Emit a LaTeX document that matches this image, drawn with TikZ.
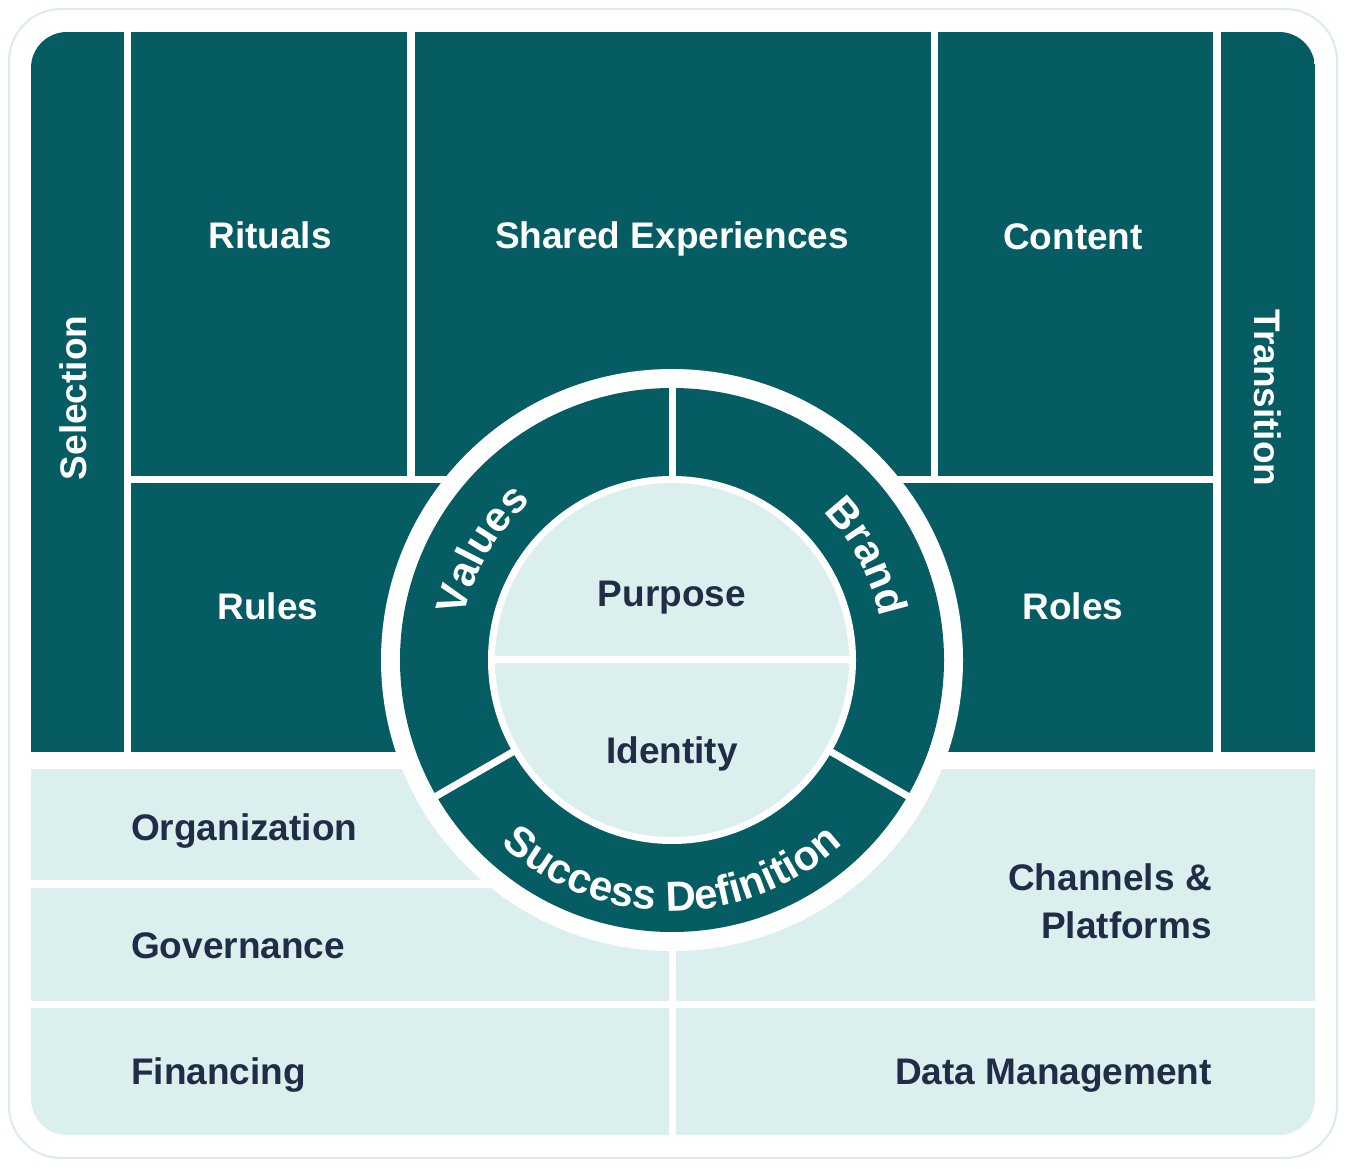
\documentclass[tikz,border=0pt]{standalone}
\usepackage{fontspec}
\setmainfont{Liberation Sans}
\usetikzlibrary{positioning,calc,decorations.text}
\definecolor{DeepTeal}{HTML}{055C63}
\definecolor{PaleTeal}{HTML}{DBEFEE}
\definecolor{InkNavy}{HTML}{1F2D46}
\definecolor{CardEdge}{HTML}{DDEAEA}
\tikzset{
  darkcell/.style={fill=DeepTeal},
  lightcell/.style={fill=PaleTeal},
  lbl/.style={font=\fontsize{37}{48}\selectfont\bfseries, text height=27pt, text depth=0pt, inner sep=0pt},
  whitelbl/.style={lbl, text=white},
  navylbl/.style={lbl, text=InkNavy},
  ringtext/.style={decorate, decoration={text along path, text align=center, text color=white,
    text={|\fontsize{42}{42}\selectfont\bfseries|#1}}},
  gapline/.style={draw=white, line width=7pt}
}

\begin{document}
\begin{tikzpicture}[x=1pt,y=1pt]
\useasboundingbox (0,0) rectangle (1346,1168);
\filldraw[draw=CardEdge, line width=2pt, fill=white, rounded corners=52pt] (9,10) rectangle (1337,1159);
\coordinate (hub) at (672,508);

\begin{scope}
\clip[rounded corners=36pt] (31,33) rectangle (1315,1136);
% top band
\fill[darkcell] (31,416) rectangle (124,1136);
\fill[darkcell] (131,692) rectangle (407,1136);
\fill[darkcell] (131,416) rectangle (672,685);
\fill[darkcell] (415,692) rectangle (931,1136);
\fill[darkcell] (938,692) rectangle (1213,1136);
\fill[darkcell] (672,416) rectangle (1213,685);
\fill[darkcell] (1221,416) rectangle (1315,1136);
% bottom band
\fill[lightcell] (31,288) rectangle (672,399);
\fill[lightcell] (31,167) rectangle (669,280);
\fill[lightcell] (31,33) rectangle (669,160);
\fill[lightcell] (676,167) rectangle (1315,399);
\fill[lightcell] (676,33) rectangle (1315,160);
\end{scope}

% central wheel
\fill[white] (hub) circle[radius=291];
\fill[DeepTeal] (hub) circle[radius=272];
\fill[white] (hub) circle[radius=184];
\fill[PaleTeal] (hub) circle[radius=177];
\draw[gapline] ($(hub)+(-180,0)$) -- ($(hub)+(180,0)$);
\foreach \a in {90,210,330}
  \draw[gapline] ($(hub)+(\a:180)$) -- ($(hub)+(\a:274)$);

\path[ringtext=Values] ($(hub)+(200:212)$) arc[start angle=200, end angle=100, radius=212];
\path[ringtext=Brand] ($(hub)+(78:212)$) arc[start angle=78, end angle=-22, radius=212];
\path[ringtext=Success Definition] ($(hub)+(205:251)$) arc[start angle=205, end angle=335, radius=251];

\node[whitelbl] (rituals) at (270,933) {Rituals};
\node[whitelbl] (shared) at (672,933) {Shared Experiences};
\node[whitelbl] (content) at (1073,932) {Content};
\node[whitelbl] (rules) at (268,562) {Rules};
\node[whitelbl] (roles) at (1073,562) {Roles};
\node[whitelbl, rotate=90] (selection) at (73,770) {Selection};
\node[whitelbl, rotate=-90] (transition) at (1268,770) {Transition};

\node[navylbl] (purpose) at (672,575) {Purpose};
\node[navylbl] (identity) at (672,418) {Identity};

\node[navylbl, anchor=west] (org) at (131,341) {Organization};
\node[navylbl, anchor=west] (gov) at (131,223) {Governance};
\node[navylbl, anchor=west] (fin) at (131,97) {Financing};
\node[navylbl, anchor=east, text height=, align=right] (channels) at (1212,267) {Channels \&\\Platforms};
\node[navylbl, anchor=east] (datamgmt) at (1212,97) {Data Management};
\end{tikzpicture}
\end{document}
